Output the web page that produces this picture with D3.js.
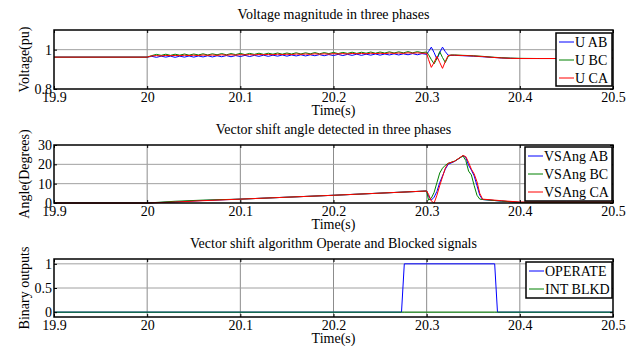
<!DOCTYPE html>
<html>
<head>
<meta charset="utf-8">
<script src="https://cdn.jsdelivr.net/npm/d3@7"></script>
<style>
  body { margin: 0; background: #fff; }
  text { font-family: "Liberation Serif", "Times New Roman", serif; fill: #000; }
</style>
</head>
<body>
<div id="chart"></div>
<script>
var svgWidth = 636;
var svgHeight = 346;

// ---- data ----
var xTicks = [19.9, 20, 20.1, 20.2, 20.3, 20.4, 20.5];

// voltage magnitude (pu)
var vTime = [19.9, 20.0,
  20.005, 20.01, 20.015, 20.02, 20.025, 20.03, 20.035, 20.04, 20.045, 20.05,
  20.055, 20.06, 20.065, 20.07, 20.075, 20.08, 20.085, 20.09, 20.095, 20.1,
  20.105, 20.11, 20.115, 20.12, 20.125, 20.13, 20.135, 20.14, 20.145, 20.15,
  20.155, 20.16, 20.165, 20.17, 20.175, 20.18, 20.185, 20.19, 20.195, 20.2,
  20.205, 20.21, 20.215, 20.22, 20.225, 20.23, 20.235, 20.24, 20.245, 20.25,
  20.255, 20.26, 20.265, 20.27, 20.275, 20.28, 20.285, 20.29, 20.295, 20.3,
  20.302, 20.305, 20.308, 20.311, 20.314, 20.317, 20.32, 20.323, 20.326, 20.33,
  20.34, 20.35, 20.36, 20.37, 20.38, 20.39, 20.4, 20.42, 20.45, 20.5];
var uAB = [0.962, 0.962,
  0.966, 0.961, 0.967, 0.962, 0.967, 0.961, 0.967, 0.962, 0.968, 0.962,
  0.968, 0.963, 0.969, 0.963, 0.969, 0.964, 0.970, 0.964, 0.970, 0.965,
  0.971, 0.965, 0.971, 0.966, 0.972, 0.966, 0.972, 0.967, 0.973, 0.967,
  0.973, 0.968, 0.974, 0.968, 0.974, 0.969, 0.975, 0.969, 0.975, 0.970,
  0.976, 0.970, 0.976, 0.971, 0.977, 0.971, 0.977, 0.972, 0.978, 0.972,
  0.978, 0.973, 0.979, 0.973, 0.979, 0.974, 0.980, 0.974, 0.980, 0.976,
  0.990, 1.013, 0.985, 0.952, 0.985, 1.013, 0.990, 0.972, 0.971, 0.971,
  0.969, 0.967, 0.964, 0.961, 0.958, 0.956, 0.955, 0.955, 0.955, 0.956];
var uBC = [0.962, 0.962,
  0.970, 0.976, 0.971, 0.977, 0.971, 0.977, 0.972, 0.978, 0.972, 0.978,
  0.973, 0.979, 0.973, 0.979, 0.974, 0.980, 0.974, 0.980, 0.975, 0.981,
  0.975, 0.981, 0.976, 0.982, 0.976, 0.982, 0.977, 0.983, 0.977, 0.983,
  0.978, 0.984, 0.978, 0.984, 0.979, 0.985, 0.979, 0.985, 0.980, 0.986,
  0.980, 0.986, 0.981, 0.987, 0.981, 0.987, 0.982, 0.988, 0.982, 0.988,
  0.983, 0.989, 0.983, 0.989, 0.984, 0.990, 0.984, 0.990, 0.985, 0.988,
  0.975, 0.950, 0.928, 0.955, 0.990, 0.960, 0.935, 0.965, 0.973, 0.973,
  0.971, 0.969, 0.966, 0.962, 0.959, 0.957, 0.956, 0.955, 0.955, 0.957];
var uCA = [0.962, 0.962,
  0.968, 0.970, 0.968, 0.971, 0.969, 0.971, 0.969, 0.972, 0.970, 0.972,
  0.970, 0.973, 0.971, 0.973, 0.971, 0.974, 0.972, 0.974, 0.972, 0.975,
  0.973, 0.975, 0.973, 0.976, 0.974, 0.976, 0.974, 0.977, 0.975, 0.977,
  0.975, 0.978, 0.976, 0.978, 0.976, 0.979, 0.977, 0.979, 0.977, 0.980,
  0.978, 0.980, 0.978, 0.981, 0.979, 0.981, 0.979, 0.982, 0.980, 0.982,
  0.980, 0.983, 0.981, 0.983, 0.981, 0.984, 0.982, 0.984, 0.982, 0.982,
  0.950, 0.910, 0.935, 0.966, 0.935, 0.905, 0.940, 0.970, 0.972, 0.972,
  0.970, 0.968, 0.965, 0.961, 0.958, 0.956, 0.955, 0.955, 0.955, 0.956];

// vector shift angle (degrees)
var aTime = [19.9, 20.0, 20.03, 20.06, 20.1, 20.2, 20.3, 20.302, 20.305, 20.308,
  20.311, 20.314, 20.317, 20.32, 20.323, 20.33, 20.339, 20.342, 20.345, 20.348,
  20.351, 20.354, 20.357, 20.36, 20.38, 20.4, 20.45, 20.5];
var angAB = [0, 0, 0.6, 1.3, 2.0, 4.0, 6.2, 3.5, 1.5, 3.0,
  6.0, 10.5, 14.0, 17.5, 20.0, 21.5, 24.5, 23.5, 19.5, 17.0,
  14.0, 9.0, 4.0, 1.8, 1.0, 0.3, 0.3, 0.3];
var angBC = [0, 0, 0.9, 1.5, 2.0, 4.0, 6.2, 1.5, 2.5, 5.5,
  10.5, 15.5, 18.0, 19.5, 20.5, 21.7, 24.3, 22.0, 16.5, 14.5,
  9.0, 4.0, 2.0, 1.8, 1.0, 0.3, 0.3, 0.3];
var angCA = [0, 0, 0.5, 1.2, 2.0, 4.0, 6.2, 4.5, 1.0, 0.0,
  4.0, 9.0, 13.5, 18.0, 20.5, 21.6, 24.6, 24.0, 21.0, 17.5,
  15.0, 11.0, 5.0, 2.0, 1.2, 0.5, 0.5, 0.5];

// binary outputs
var bTime = [19.9, 20.273, 20.276, 20.373, 20.376, 20.5];
var operate = [0, 0, 1, 1, 0, 0];
var intBlkd = [0, 0, 0, 0, 0, 0];

var colors = ["#0000ff", "#008000", "#ff0000"];

var panels = [
  {
    title: "Voltage magnitude in three phases", ylabel: "Voltage(pu)",
    top: 30, bottom: 89, yDomain: [0.8, 1.1], yTicks: [0.8, 1],
    time: vTime, series: [uAB, uBC, uCA], names: ["U AB", "U BC", "U CA"],
    legend: { x: 556, y: 33, w: 56, h: 53 }
  },
  {
    title: "Vector shift angle detected in three phases", ylabel: "Angle(Degrees)",
    top: 145, bottom: 203, yDomain: [0, 30], yTicks: [0, 10, 20, 30],
    time: aTime, series: [angAB, angBC, angCA], names: ["VSAng AB", "VSAng BC", "VSAng CA"],
    legend: { x: 525, y: 147, w: 87, h: 54 }
  },
  {
    title: "Vector shift algorithm Operate and Blocked signals", ylabel: "Binary outputs",
    top: 259, bottom: 317, yDomain: [-0.1, 1.1], yTicks: [0, 0.5, 1],
    time: bTime, series: [operate, intBlkd], names: ["OPERATE", "INT BLKD"],
    legend: { x: 526, y: 262, w: 86, h: 36 }
  }
];

var xLeft = 54, xRight = 613;

var svg = d3.select("#chart")
  .append("svg")
  .attr("width", svgWidth)
  .attr("height", svgHeight);

var xScale = d3.scaleLinear().domain([19.9, 20.5]).range([xLeft, xRight]);

panels.forEach(function(p) {
  var yScale = d3.scaleLinear().domain(p.yDomain).range([p.bottom, p.top]);
  var g = svg.append("g");

  // grid
  g.selectAll(".vgrid")
    .data(xTicks.slice(1, -1))
    .enter()
    .append("line")
    .attr("x1", d => xScale(d)).attr("x2", d => xScale(d))
    .attr("y1", p.top).attr("y2", p.bottom)
    .attr("stroke", "#8c8c8c").attr("stroke-width", 1);

  g.selectAll(".hgrid")
    .data(p.yTicks.filter(d => yScale(d) > p.top + 1 && yScale(d) < p.bottom - 1))
    .enter()
    .append("line")
    .attr("x1", xLeft).attr("x2", xRight)
    .attr("y1", d => yScale(d)).attr("y2", d => yScale(d))
    .attr("stroke", "#a0a0a0").attr("stroke-width", 1);

  // curves
  var line = d3.line()
    .x((d, i) => xScale(p.time[i]))
    .y(d => yScale(d));

  p.series.forEach(function(s, k) {
    g.append("path")
      .datum(s)
      .attr("d", line)
      .attr("fill", "none")
      .attr("stroke", colors[k])
      .attr("stroke-width", 1);
  });

  // axes (ticks pointing inward)
  g.append("g")
    .attr("transform", `translate(0, ${p.bottom})`)
    .call(d3.axisBottom(xScale).tickValues(xTicks).tickSize(-3).tickPadding(3)
      .tickFormat(d3.format("")))
    .call(a => a.select(".domain").remove())
    .call(a => a.selectAll("text").attr("font-size", "14px")
      .attr("font-family", "Liberation Serif"));

  g.append("g")
    .attr("transform", `translate(0, ${p.top})`)
    .call(d3.axisTop(xScale).tickValues(xTicks).tickSize(-3).tickFormat(""))
    .call(a => a.select(".domain").remove());

  g.append("g")
    .attr("transform", `translate(${xLeft}, 0)`)
    .call(d3.axisLeft(yScale).tickValues(p.yTicks).tickSize(-3).tickPadding(2)
      .tickFormat(d3.format("")))
    .call(a => a.select(".domain").remove())
    .call(a => a.selectAll("text").attr("font-size", "14px")
      .attr("font-family", "Liberation Serif"));

  g.append("g")
    .attr("transform", `translate(${xRight}, 0)`)
    .call(d3.axisRight(yScale).tickValues(p.yTicks).tickSize(-3).tickFormat(""))
    .call(a => a.select(".domain").remove());

  // box
  g.append("rect")
    .attr("x", xLeft).attr("y", p.top)
    .attr("width", xRight - xLeft).attr("height", p.bottom - p.top)
    .attr("fill", "none").attr("stroke", "#000").attr("stroke-width", 1.5);

  // title and labels
  svg.append("text")
    .attr("x", (xLeft + xRight) / 2).attr("y", p.top - 11)
    .attr("text-anchor", "middle").attr("font-size", "14px")
    .text(p.title);

  svg.append("text")
    .attr("x", (xLeft + xRight) / 2).attr("y", p.bottom + 26)
    .attr("text-anchor", "middle").attr("font-size", "14px")
    .text("Time(s)");

  svg.append("text")
    .attr("transform", `translate(29, ${(p.top + p.bottom) / 2}) rotate(-90)`)
    .attr("text-anchor", "middle").attr("font-size", "14px")
    .text(p.ylabel);

  // legend
  var lg = svg.append("g").attr("transform", `translate(${p.legend.x}, ${p.legend.y})`);
  lg.append("rect")
    .attr("width", p.legend.w).attr("height", p.legend.h)
    .attr("fill", "#fff").attr("stroke", "#000").attr("stroke-width", 1.5);
  var step = p.names.length === 3 ? 18 : 18;
  var y0 = p.names.length === 3 ? 9 : 9;
  p.names.forEach(function(name, k) {
    var yy = y0 + k * step;
    lg.append("line")
      .attr("x1", 3).attr("x2", 18)
      .attr("y1", yy).attr("y2", yy)
      .attr("stroke", colors[k]).attr("stroke-width", 1);
    lg.append("text")
      .attr("x", 19).attr("y", yy + 5)
      .attr("font-size", "14px")
      .text(name);
  });
});
</script>
</body>
</html>
